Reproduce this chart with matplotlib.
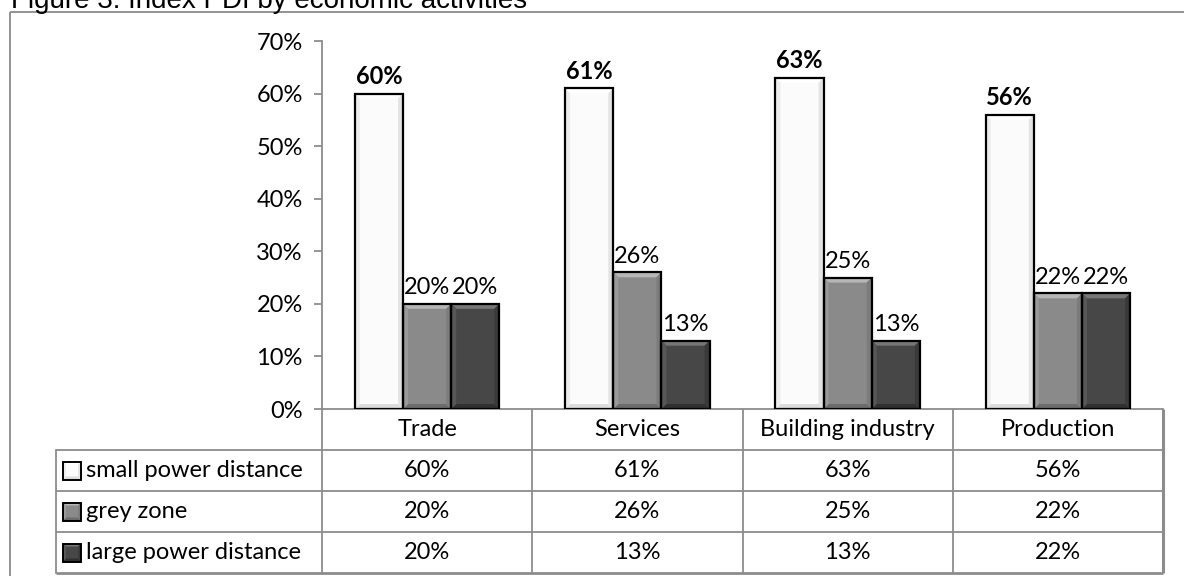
import matplotlib
matplotlib.use("Agg")
import matplotlib.pyplot as plt
from matplotlib.patches import Polygon, Rectangle
from matplotlib.ticker import FuncFormatter, MultipleLocator

# ---- data -------------------------------------------------------------
categories = ["Trade", "Services", "Building industry", "Production"]
series_names = ["small power distance", "grey zone", "large power distance"]
small_pd = [60, 61, 63, 56]
grey_zone = [20, 26, 25, 22]
large_pd = [20, 13, 13, 22]
title = "Figure 3: Index PDI by economic activities"

series_values = [small_pd, grey_zone, large_pd]

# face, top bevel, bottom bevel, left bevel, right bevel
palettes = [
    ("#fbfbfb", "#ffffff", "#dcdcdc", "#ececec", "#e4e4e4"),
    ("#8a8a8a", "#b6b6b6", "#6c6c6c", "#9a9a9a", "#7c7c7c"),
    ("#474747", "#767676", "#303030", "#575757", "#3a3a3a"),
]

FONT = "Lato"
FS = 17
GRID = "#8c8c8c"

W, H = 1184, 576
fig = plt.figure(figsize=(W / 100, H / 100), dpi=100)
fig.patch.set_facecolor("white")

# overlay in pixel coordinates (origin top-left) for frame, table and title
ov = fig.add_axes([0, 0, 1, 1], zorder=0)
ov.set_xlim(0, W)
ov.set_ylim(H, 0)
ov.axis("off")

# chart area
ax_l, ax_r, ax_t, ax_b = 322, 1163, 41, 409
ax = fig.add_axes([ax_l / W, 1 - ax_b / H, (ax_r - ax_l) / W, (ax_b - ax_t) / H], zorder=2)
ax.patch.set_alpha(0)
ax.set_xlim(-0.5, len(categories) - 0.5)
ax.set_ylim(0, 70)

sx = len(categories) / (ax_r - ax_l)   # data units per pixel (x)
sy = 70.0 / (ax_b - ax_t)              # data units per pixel (y)

bar_w = 0.229
offsets = [-bar_w, 0.0, bar_w]


def bevel(axis, x0, y0, w, h, pal, bx, by, z=3):
    face, top, bot, left, right = pal
    x1, y1 = x0 + w, y0 + h
    bx = min(bx, w / 2)
    by = min(by, h / 2)
    polys = [
        ([(x0, y1), (x1, y1), (x1 - bx, y1 - by), (x0 + bx, y1 - by)], top),
        ([(x0, y0), (x1, y0), (x1 - bx, y0 + by), (x0 + bx, y0 + by)], bot),
        ([(x0, y0), (x0, y1), (x0 + bx, y1 - by), (x0 + bx, y0 + by)], left),
        ([(x1, y0), (x1, y1), (x1 - bx, y1 - by), (x1 - bx, y0 + by)], right),
    ]
    for pts, c in polys:
        axis.add_patch(Polygon(pts, closed=True, facecolor=c, edgecolor="none", zorder=z + 0.1))


for s, (vals, pal) in enumerate(zip(series_values, palettes)):
    xs = [i + offsets[s] for i in range(len(categories))]
    bars = ax.bar(xs, vals, width=bar_w, color=pal[0], edgecolor="none", zorder=3)
    for rect in bars:
        bevel(ax, rect.get_x(), 0, rect.get_width(), rect.get_height(), pal, 5 * sx, 5 * sy)
    ax.bar(xs, vals, width=bar_w, fill=False, edgecolor="black", linewidth=1.6, zorder=4)
    for x, v in zip(xs, vals):
        ax.annotate(f"{v}%", (x, v), xytext=(0, 4), textcoords="offset points",
                    ha="center", va="bottom", fontsize=FS, family=FONT,
                    fontweight="bold" if s == 0 else "normal", color="black")

ax.yaxis.set_major_locator(MultipleLocator(10))
ax.yaxis.set_major_formatter(FuncFormatter(lambda v, _: f"{v:.0f}%"))
ax.set_xticks([])
for side in ("top", "right"):
    ax.spines[side].set_visible(False)
for side in ("left", "bottom"):
    ax.spines[side].set_color(GRID)
    ax.spines[side].set_linewidth(1.3)
ax.tick_params(axis="y", length=5.8, width=1.3, color=GRID, pad=8,
               labelsize=FS, labelcolor="black")
for lbl in ax.get_yticklabels():
    lbl.set_family(FONT)

# ---- outer frame ----
ov.add_patch(Rectangle((10, 12), 1400, 800, fill=False, edgecolor="#8a8a8a", linewidth=1.3))

# ---- title ----
fig.text(11 / W, 1 - 8 / H, title, ha="left", va="baseline",
         fontsize=20, family="Liberation Sans", color="black")

# ---- data table ----
tab_l = 56
col_edges = [ax_l + i * (ax_r - ax_l) / len(categories) for i in range(len(categories) + 1)]
row_edges = [ax_b, 450, 491, 532, 573]

for i, xe in enumerate(col_edges):
    lw = 2.2 if i == len(col_edges) - 1 else 1.3
    ov.plot([xe, xe], [row_edges[0], row_edges[-1]], color=GRID, lw=lw, solid_capstyle="butt")
ov.plot([tab_l, tab_l], [row_edges[1], row_edges[-1]], color=GRID, lw=1.3)
for j, ye in enumerate(row_edges[1:]):
    lw = 2.0 if j == len(row_edges) - 2 else 1.3
    ov.plot([tab_l, ax_r], [ye, ye], color=GRID, lw=lw, solid_capstyle="butt")

for i, cat in enumerate(categories):
    cx = (col_edges[i] + col_edges[i + 1]) / 2
    ov.text(cx, (row_edges[0] + row_edges[1]) / 2, cat, ha="center", va="center",
            fontsize=FS, family=FONT, color="black")

for r, (name, vals, pal) in enumerate(zip(series_names, series_values, palettes)):
    cy = (row_edges[r + 1] + row_edges[r + 2]) / 2
    # legend key
    k = 18
    ky0 = cy - k / 2
    ov.add_patch(Rectangle((63, ky0), k, k, facecolor=pal[0], edgecolor="none", zorder=3))
    # bevel in the flipped pixel axes: swap top/bottom shades
    pal_flipped = (pal[0], pal[2], pal[1], pal[3], pal[4])
    bevel(ov, 63, ky0, k, k, pal_flipped, 3, 3)
    ov.add_patch(Rectangle((63, ky0), k, k, fill=False, edgecolor="black", lw=1.4, zorder=4))
    ov.text(86, cy, name, ha="left", va="center", fontsize=FS, family=FONT, color="black")
    for i, v in enumerate(vals):
        cx = (col_edges[i] + col_edges[i + 1]) / 2
        ov.text(cx, cy, f"{v}%", ha="center", va="center", fontsize=FS,
                family=FONT, color="black")

fig.savefig("out.png", dpi=100)
